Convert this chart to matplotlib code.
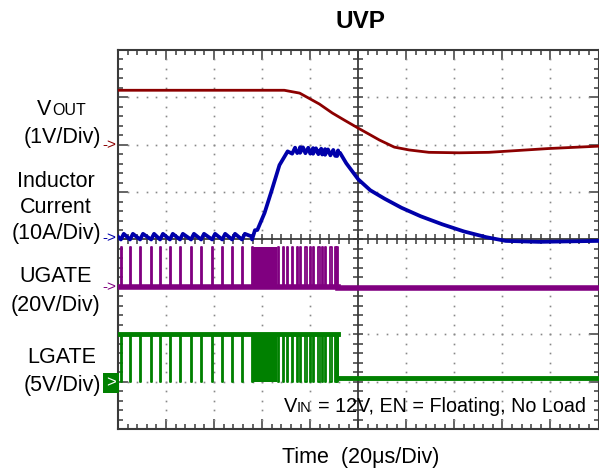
import numpy as np
import matplotlib.pyplot as plt
from matplotlib.patches import Rectangle

plt.rcParams['font.family'] = ['Liberation Sans', 'DejaVu Sans']

vout_t = [0, 3.46, 3.78, 4.19, 4.46, 4.71, 5.0, 5.23, 5.44, 5.75, 6.06, 6.47, 7.10, 7.72, 8.34, 8.96, 10.0]
vout_v = [7.15, 7.15, 7.09, 6.86, 6.67, 6.52, 6.35, 6.22, 6.10, 5.95, 5.89, 5.84, 5.83, 5.84, 5.88, 5.92, 5.97]

il_t = [0, 2.79, 2.90, 3.05, 3.20, 3.36, 3.53, 3.78, 4.19, 4.58, 4.75, 5.00, 5.25, 5.55, 5.90, 6.30, 6.75, 7.20, 7.66, 8.07, 8.76, 10.0]
il_v = [4.06, 4.06, 4.20, 4.56, 5.04, 5.57, 5.86, 5.89, 5.86, 5.82, 5.61, 5.27, 5.04, 4.86, 4.67, 4.49, 4.32, 4.17, 4.05, 3.97, 3.95, 3.97]
il_ripple = 0.06

# switching pulses
pwm_t = [0.06, 0.25, 0.46, 0.69, 0.875, 1.08, 1.29, 1.52, 1.73, 1.96, 2.17, 2.375, 2.58, 2.79]
burst = [2.81, 3.31]
late_t = [3.33, 3.44, 3.52, 3.625, 3.73, 3.79, 3.90, 4.0, 4.06, 4.17, 4.25, 4.31, 4.42, 4.52, 4.56]
t_off = 4.58
pulse_w = 0.025

ug_lo, ug_hi = 3.0, 3.84
lg_hi, lg_lo, lg_off = 2.0, 1.0, 1.07

red = '#8c0000'
blue = '#0000aa'
purple = '#800080'
green = '#008000'

W, H = 599, 469
def fx(x):
    return x / W
def fy(y):
    return 1 - y / H

fig = plt.figure(figsize=(5.99, 4.69), dpi=100)
ax = fig.add_axes([fx(118), fy(429), 480.5 / W, 379 / H])
ax.set_xlim(0, 10)
ax.set_ylim(0, 8)

# frame and ticks
for s in ax.spines.values():
    s.set_color('#3a3a3a')
    s.set_linewidth(1.5)
ax.set_xticks(range(11))
ax.set_yticks(range(9))
ax.set_xticks(np.arange(0, 10.01, 0.2), minor=True)
ax.set_yticks(np.arange(0, 8.01, 0.2), minor=True)
ax.tick_params(which='both', direction='in', top=True, right=True,
               labelbottom=False, labelleft=False, color='#3a3a3a', width=1.1)
ax.tick_params(which='major', length=7)
ax.tick_params(which='minor', length=3.5)

# dotted graticule
minor_x = np.arange(0.2, 10, 0.2)
minor_y = np.arange(0.2, 8, 0.2)
for gx in [1, 2, 3, 4, 6, 7, 8, 9]:
    ax.plot([gx] * len(minor_y), minor_y, ls='none', marker='s', ms=1.2, color='#888888', mew=0)
for gy in [1, 2, 3, 5, 6, 7]:
    ax.plot(minor_x, [gy] * len(minor_x), ls='none', marker='s', ms=1.2, color='#888888', mew=0)

# centre cross
ax.axvline(5, color='#3a3a3a', lw=1.3)
ax.axhline(4, color='#3a3a3a', lw=1.3)
ax.plot([5] * len(minor_y), minor_y, ls='none', marker='_', ms=7, mew=1.1, color='#3a3a3a')
ax.plot(minor_x, [4] * len(minor_x), ls='none', marker='|', ms=7, mew=1.1, color='#3a3a3a')

# VOUT
ax.plot(vout_t, vout_v, color=red, lw=2.0, zorder=5)

# inductor current with ripple at each switching pulse
rip = [p for p in pwm_t + late_t if p < burst[0] or p > il_t[6]]
tt = list(il_t)
vv = list(il_v)
for p in rip:
    tt += [p, p + 0.06]
    vv += [np.interp(p, il_t, il_v) - il_ripple, np.interp(p + 0.06, il_t, il_v) + il_ripple]
order = np.argsort(tt)
ax.plot(np.array(tt)[order], np.array(vv)[order], color=blue, lw=2.7, zorder=5)

# UGATE
ut, uv = [0], [ug_lo]
for p in pwm_t + late_t:
    ut += [p, p, p + pulse_w, p + pulse_w]
    uv += [ug_lo, ug_hi, ug_hi, ug_lo]
ut.append(10)
uv.append(ug_lo)
ax.plot(ut, uv, color=purple, lw=1.3, zorder=4)
ax.plot([0, t_off], [ug_lo, ug_lo], color=purple, lw=4, zorder=4)
ax.plot([t_off, 10], [ug_lo - 0.02, ug_lo - 0.02], color=purple, lw=4, zorder=4)
ax.fill_between(burst, ug_lo, ug_hi, color=purple, lw=0, zorder=4)

# LGATE
lt, lv = [0], [lg_hi]
for p in pwm_t + late_t:
    lt += [p, p, p + pulse_w, p + pulse_w]
    lv += [lg_hi, lg_lo, lg_lo, lg_hi]
lt += [t_off, t_off, 10]
lv += [lg_hi, lg_off, lg_off]
ax.plot(lt, lv, color=green, lw=1.3, zorder=4)
ax.plot([0, t_off], [lg_hi, lg_hi], color=green, lw=3.5, zorder=4)
ax.plot([t_off, 10], [lg_off, lg_off], color=green, lw=3.5, zorder=4)
ax.fill_between(burst, lg_lo, lg_hi, color=green, lw=0, zorder=4)

# texts
fs = 15.5
fig.text(fx(360), fy(22), 'UVP', ha='center', va='center', fontsize=17.5, weight='bold')
fig.text(fx(361), fy(463), 'Time  (20\u03bcs/Div)', ha='center', va='baseline', fontsize=fs)

fig.text(fx(37), fy(115), 'V', ha='left', va='baseline', fontsize=fs)
fig.text(fx(52.5), fy(115), 'OUT', ha='left', va='baseline', fontsize=11.5)
fig.text(fx(62), fy(143), '(1V/Div)', ha='center', va='baseline', fontsize=fs)
fig.text(fx(56), fy(187), 'Inductor', ha='center', va='baseline', fontsize=fs)
fig.text(fx(56), fy(213), 'Current', ha='center', va='baseline', fontsize=fs)
fig.text(fx(56), fy(239), '(10A/Div)', ha='center', va='baseline', fontsize=fs)
fig.text(fx(56), fy(282), 'UGATE', ha='center', va='baseline', fontsize=fs)
fig.text(fx(56), fy(311), '(20V/Div)', ha='center', va='baseline', fontsize=fs)
fig.text(fx(62), fy(363), 'LGATE', ha='center', va='baseline', fontsize=fs)
fig.text(fx(62), fy(391), '(5V/Div)', ha='center', va='baseline', fontsize=fs)

fig.text(fx(102.5), fy(145), '->', ha='left', va='center', fontsize=11, color=red)
fig.text(fx(102.5), fy(238), '->', ha='left', va='center', fontsize=11, color=blue)
fig.text(fx(102.5), fy(287), '->', ha='left', va='center', fontsize=11, color=purple)
fig.patches.append(Rectangle((fx(103), fy(393)), 15.5 / W, 20 / H, transform=fig.transFigure,
                             facecolor=green, edgecolor='none', figure=fig))
fig.text(fx(110.5), fy(382.5), '>', ha='center', va='center', fontsize=12, color='white')

fig.text(fx(284), fy(412), 'V', ha='left', va='baseline', fontsize=14.4)
fig.text(fx(297), fy(412), 'IN', ha='left', va='baseline', fontsize=10.5)
fig.text(fx(586), fy(412), '= 12V, EN = Floating, No Load', ha='right', va='baseline', fontsize=14.2)

fig.savefig('out.png', dpi=100)
